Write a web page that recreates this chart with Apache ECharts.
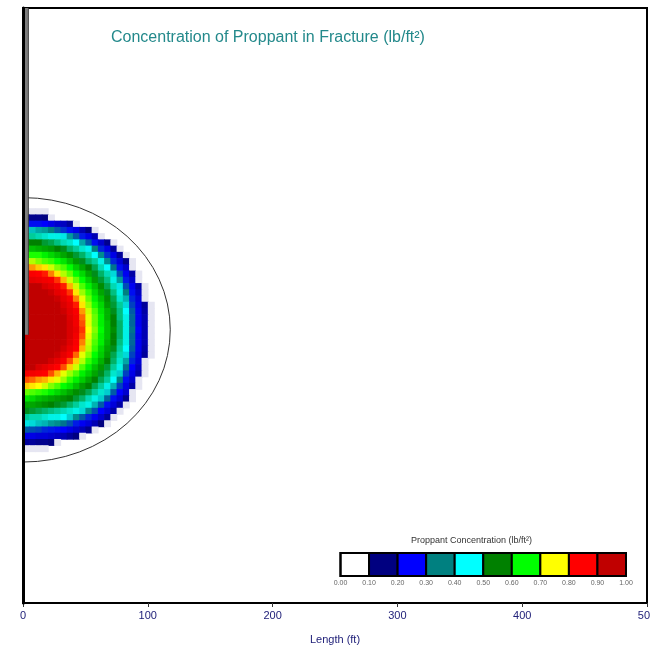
<!DOCTYPE html>
<html>
<head>
<meta charset="utf-8">
<script src="https://cdn.jsdelivr.net/npm/echarts@6/dist/echarts.min.js"></script>
<style>
html,body{margin:0;padding:0;background:#ffffff;}
#chart{width:650px;height:646px;}
</style>
</head>
<body>
<div id="chart"></div>
<script>
// ---------------- data ----------------
const xTickValues = [0, 100, 200, 300, 400, 500];           // Length (ft)
const legendTicks = [0.0, 0.1, 0.2, 0.3, 0.4, 0.5, 0.6, 0.7, 0.8, 0.9, 1.0];
const legendColors = ['#ffffff', '#000080', '#0000ff', '#008080', '#00ffff',
                      '#008000', '#00ff00', '#ffff00', '#ff0000', '#c00000'];

// concentration grid: cell centres (ft) and values (lb/ft² x 100).
// Each row lists the cells from x = 2.5 ft outwards; cells past the end of a row carry no proppant.
const cellXCenters = [2.5, 7.5, 12.5, 17.5, 22.5, 27.5, 32.5, 37.5, 42.5, 47.5, 52.5,
                      57.5, 62.5, 67.5, 72.5, 77.5, 82.5, 87.5, 92.5, 97.5, 102.5, 107.5];
const cellYCenters = [95, 90, 85, 80, 75, 70, 65, 60, 55, 50, 45, 40, 35, 30, 25, 20, 15, 10, 5, 0,
                      -5, -10, -15, -20, -25, -30, -35, -40, -45, -50, -55, -60, -65, -70, -75, -80, -85, -90, -95];
const concentrationPct = [
  [6,6,6,6],
  [17,16,16,15,6],
  [27,26,26,25,23,21,20,17,6],
  [41,40,38,37,35,32,29,26,23,19,15,6],
  [50,49,48,47,46,46,43,37,32,27,23,19,6],
  [56,55,55,53,52,50,48,47,45,38,32,26,21,16,6],
  [61,60,59,58,57,55,54,51,49,47,44,35,28,23,17,6],
  [67,66,66,64,62,60,58,56,53,51,48,45,36,29,23,17,6],
  [73,72,70,68,67,65,63,60,57,54,51,49,46,36,28,22,16,6],
  [81,79,77,76,73,70,68,65,61,58,55,52,48,45,34,26,21,6],
  [87,86,85,84,80,76,72,69,65,62,58,54,51,48,42,31,24,18,6],
  [90,89,88,87,86,83,78,73,69,65,61,57,53,50,46,37,27,21,6],
  [97,97,96,91,89,87,84,78,73,68,64,60,56,52,48,43,31,24,18,6],
  [97,97,97,97,93,89,87,83,76,71,67,62,58,54,50,46,35,26,20,6],
  [97,97,97,97,97,93,89,86,80,74,69,64,60,56,52,47,39,28,22,6],
  [97,97,97,97,97,96,91,88,84,76,71,66,62,57,53,49,42,30,23,17,6],
  [97,97,97,97,97,97,93,89,86,79,73,68,63,59,54,50,45,32,24,18,6],
  [97,97,97,97,97,97,95,90,87,81,74,69,64,59,55,50,46,33,24,19,6],
  [97,97,97,97,97,97,95,91,87,82,74,69,64,60,55,51,46,33,24,19,6],
  [97,97,97,97,97,97,96,91,88,83,75,70,65,60,56,51,46,34,25,19,6],
  [97,97,97,97,97,97,95,91,87,82,74,69,64,60,55,51,46,33,24,19,6],
  [97,97,97,97,97,97,94,90,86,80,73,68,64,59,55,50,46,33,24,19,6],
  [97,97,97,97,97,96,92,88,85,78,72,67,62,58,54,49,45,32,24,18,6],
  [97,97,97,97,97,93,89,86,81,74,70,65,61,57,52,48,42,30,23,17,6],
  [97,97,97,96,92,89,86,82,77,72,67,63,59,55,51,47,38,28,22,6],
  [97,95,91,89,87,85,82,77,73,68,64,60,57,53,49,46,34,25,20,6],
  [87,87,86,85,82,78,74,71,68,64,61,58,54,51,47,41,30,23,18,6],
  [82,81,79,78,76,74,71,67,64,61,58,55,52,49,45,35,26,21,6],
  [77,76,75,73,70,68,65,63,60,57,55,52,49,46,39,30,23,18,6],
  [69,68,67,66,64,62,60,58,56,54,52,49,47,41,32,25,21,6],
  [63,62,60,59,58,57,56,55,53,51,48,46,41,33,26,22,16,6],
  [58,58,57,56,55,54,53,51,49,47,46,39,32,26,22,18,6],
  [54,53,52,51,50,49,48,47,46,42,36,31,25,22,18,6],
  [49,48,48,47,46,46,45,41,36,32,28,24,21,17,6],
  [43,42,40,39,37,36,34,31,27,24,22,19,15,6],
  [32,31,30,28,27,26,25,23,21,19,16,6],
  [23,23,22,22,21,20,19,17,15,6],
  [17,17,16,16,15,6],
  [6,6,6,6]
];

// fracture outline (ft) and wellbore (ft)
const fractureCenter = [0, 0];
const fractureHalfLength = [118];
const fractureHalfHeight = [106];
const wellboreX = [2.8];
const wellboreDepthRange = [258, -4];

// ---------------- build ----------------
const cellW = cellXCenters[1] - cellXCenters[0];
const cellH = cellYCenters[0] - cellYCenters[1];
const fieldData = [];
concentrationPct.forEach((row, r) => {
  row.forEach((v, c) => {
    fieldData.push([cellXCenters[c], cellYCenters[r], v / 100]);
  });
});

function hex(c){ return [parseInt(c.slice(1,3),16), parseInt(c.slice(3,5),16), parseInt(c.slice(5,7),16)]; }
function mix(a, b){
  const A = hex(a), B = hex(b);
  return 'rgb(' + A.map((x,i)=>Math.round((x+B[i])/2)).join(',') + ')';
}
// continuous scale: each legend colour sits at the centre of its bin
const rampColors = [];
for (let j = 0; j <= 20; j++) {
  if (j % 2 === 1) rampColors.push(legendColors[(j-1)/2]);
  else if (j === 0) rampColors.push(legendColors[0]);
  else if (j === 20) rampColors.push(legendColors[9]);
  else rampColors.push(mix(legendColors[j/2-1], legendColors[j/2]));
}

const legendData = legendColors.map((c, i) => [legendTicks[i], legendTicks[i+1], i]);

const FONT = "'Liberation Sans', Arial, Helvetica, sans-serif";
const chart = echarts.init(document.getElementById('chart'), null, {renderer: 'canvas'});

const option = {
  animation: false,
  backgroundColor: '#ffffff',
  textStyle: {fontFamily: FONT},
  title: [{
    text: 'Concentration of Proppant in Fracture (lb/ft²)',
    left: 111, top: 29, padding: 0,
    textStyle: {fontSize: 16, fontWeight: 'normal', color: '#23898b', fontFamily: FONT, lineHeight: 18}
  }, {
    text: 'Proppant Concentration (lb/ft²)',
    left: 411, top: 536, padding: 0,
    textStyle: {fontSize: 9, fontWeight: 'normal', color: '#333333', fontFamily: FONT, lineHeight: 10}
  }],
  grid: [
    {left: 23, right: 3, top: 8, bottom: 43, show: true, borderColor: '#000', borderWidth: 2,
     backgroundColor: 'transparent', outerBoundsMode: 'none', containLabel: false},
    {left: 340.5, right: 24, top: 553, bottom: 70, show: true, borderColor: '#000', borderWidth: 2, z: 5,
     outerBoundsMode: 'none', containLabel: false}
  ],
  xAxis: [{
    gridIndex: 0, type: 'value', min: xTickValues[0], max: xTickValues[xTickValues.length-1], interval: 100,
    axisLine: {show: true, onZero: false, lineStyle: {color: '#000', width: 2}},
    axisTick: {show: true, length: 4, lineStyle: {color: '#333'}},
    axisLabel: {color: '#22227a', fontSize: 11, margin: 7, fontFamily: FONT},
    splitLine: {show: false},
    name: 'Length (ft)', nameLocation: 'middle', nameGap: 31,
    nameTextStyle: {color: '#22227a', fontSize: 11, fontFamily: FONT}
  }, {
    gridIndex: 1, type: 'value', min: 0, max: 1, interval: 0.1,
    axisLine: {show: false, onZero: false}, axisTick: {show: false}, splitLine: {show: false},
    axisLabel: {color: '#666666', fontSize: 7, margin: 4, fontFamily: FONT, formatter: v => v.toFixed(2)}
  }],
  yAxis: [{
    gridIndex: 0, type: 'value', min: -219, max: 258, z: 10,
    axisLine: {show: true, onZero: false, lineStyle: {color: '#000', width: 3}},
    axisTick: {show: false}, axisLabel: {show: false}, splitLine: {show: false}
  }, {
    gridIndex: 1, type: 'value', min: 0, max: 1, show: false
  }],
  visualMap: [{
    type: 'continuous', show: false, seriesIndex: 0, dimension: 2,
    min: 0, max: 1, inRange: {color: rampColors}
  }],
  series: [{
    type: 'custom', name: 'concentration', xAxisIndex: 0, yAxisIndex: 0, z: 2, clip: true,
    data: fieldData,
    renderItem: function (params, api) {
      const v = api.value(2);
      if (!(v > 0)) return null;
      const x = api.value(0), y = api.value(1);
      const p0 = api.coord([x - cellW/2, y + cellH/2]);
      const p1 = api.coord([x + cellW/2, y - cellH/2]);
      return {type: 'rect', shape: {x: p0[0], y: p0[1], width: p1[0]-p0[0]+0.7, height: p1[1]-p0[1]+0.7},
              style: {fill: api.visual('color')}};
    }
  }, {
    type: 'custom', name: 'fracture outline', xAxisIndex: 0, yAxisIndex: 0, z: 3, clip: true,
    data: [[fractureCenter[0], fractureCenter[1], fractureHalfLength[0], fractureHalfHeight[0]]],
    renderItem: function (params, api) {
      const c = api.coord([api.value(0), api.value(1)]);
      const s = api.size([api.value(2), api.value(3)]);
      const rx = s[0], ry = s[1];
      const d = 'M' + c[0] + ' ' + (c[1]-ry) + ' A' + rx + ' ' + ry + ' 0 0 1 ' + c[0] + ' ' + (c[1]+ry);
      return {type: 'path', shape: {pathData: d}, style: {fill: null, stroke: '#333333', lineWidth: 1}};
    }
  }, {
    type: 'line', name: 'wellbore', xAxisIndex: 0, yAxisIndex: 0, z: 4, silent: true,
    symbol: 'none', lineStyle: {color: '#7d7d7d', width: 3},
    data: wellboreDepthRange.map(d => [wellboreX[0], d])
  }, {
    type: 'line', name: 'wellbore edge', xAxisIndex: 0, yAxisIndex: 0, z: 4, silent: true,
    symbol: 'none', lineStyle: {color: '#3c3c3c', width: 1},
    data: wellboreDepthRange.map(d => [wellboreX[0] + 1.5, d])
  }, {
    type: 'custom', name: 'legend', xAxisIndex: 1, yAxisIndex: 1, z: 4,
    data: legendData,
    renderItem: function (params, api) {
      const p0 = api.coord([api.value(0), 1]);
      const p1 = api.coord([api.value(1), 0]);
      return {type: 'rect', shape: {x: p0[0], y: p0[1], width: p1[0]-p0[0], height: p1[1]-p0[1]},
              style: {fill: legendColors[api.value(2)], stroke: '#000', lineWidth: 2}};
    }
  }]
};
chart.setOption(option);
</script>
</body>
</html>
